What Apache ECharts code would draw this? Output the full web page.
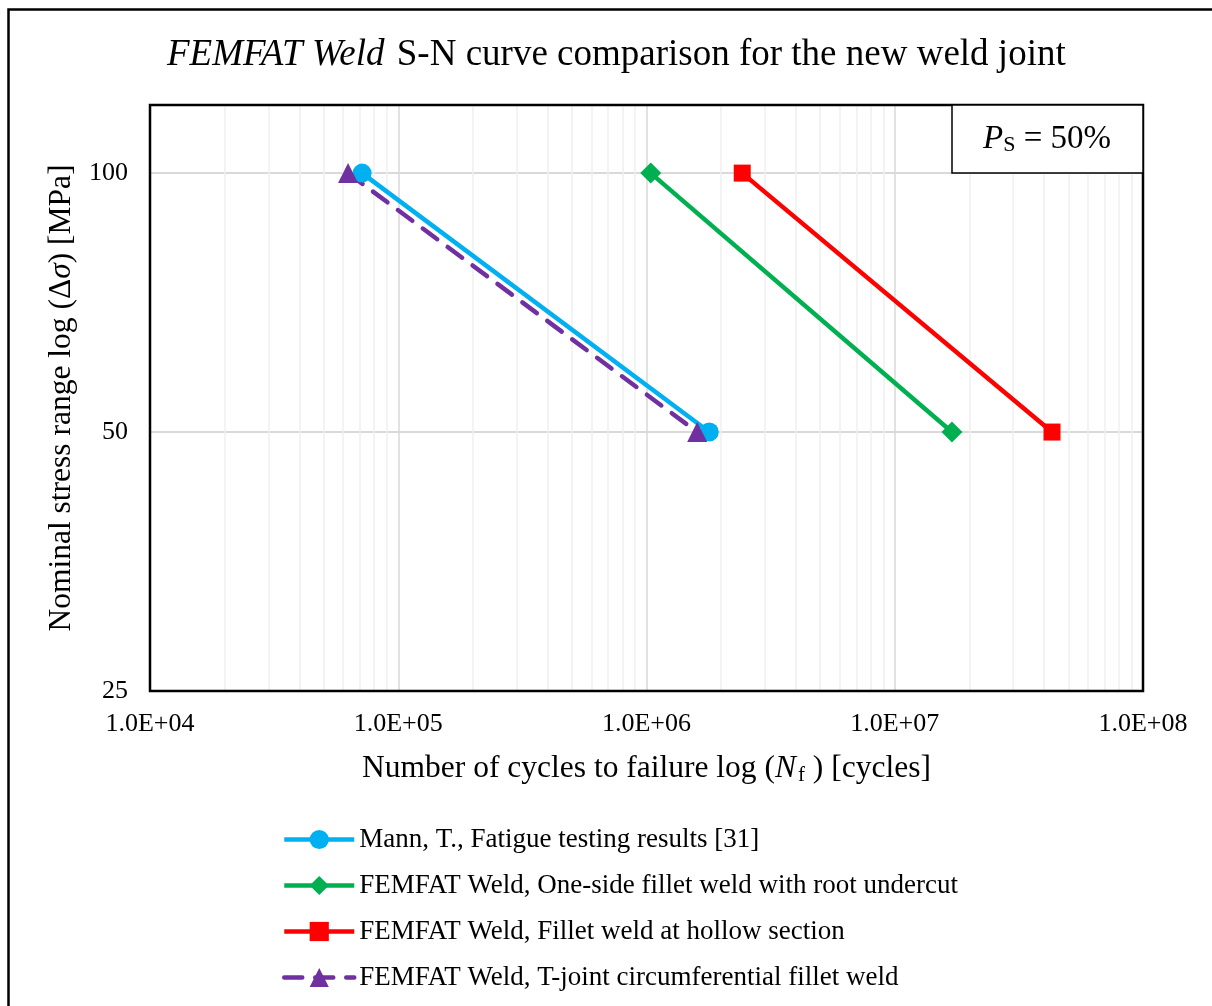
<!DOCTYPE html>
<html>
<head>
<meta charset="utf-8">
<script src="https://cdn.jsdelivr.net/npm/echarts@6/dist/echarts.min.js"></script>
<style>
html,body{margin:0;padding:0;background:#fff;}
#chart{width:1212px;height:1006px;}
</style>
</head>
<body>
<div id="chart"></div>
<script>
// ---- data ----
const seriesNames = [
  'Mann, T., Fatigue testing results [31]',
  'FEMFAT Weld, One-side fillet weld with root undercut',
  'FEMFAT Weld, Fillet weld at hollow section',
  'FEMFAT Weld, T-joint circumferential fillet weld'
];
const mannData   = [[7.15e4, 100], [1.79e6, 50]];
const oneSideData = [[1.04e6, 100], [1.70e7, 50]];
const hollowData = [[2.43e6, 100], [4.30e7, 50]];
const tJointData = [[6.28e4, 100], [1.60e6, 50]];

const xMajorTicks = [1e4, 1e5, 1e6, 1e7, 1e8];
const xMinorMultipliers = [2, 3, 4, 5, 6, 7, 8, 9];
const yTicks = [25, 50, 100];

// build full x gridline list (major + minor)
const xGridTicks = [];
xMajorTicks.forEach(function (m, i) {
  xGridTicks.push(m);
  if (i < xMajorTicks.length - 1) xMinorMultipliers.forEach(function (k) { xGridTicks.push(m * k); });
});
const gridColors = ['#d9d9d9'].concat(xMinorMultipliers.map(function () { return '#efefef'; }));

const FONT = '"Liberation Serif", "Times New Roman", serif';

const chart = echarts.init(document.getElementById('chart'));
chart.setOption({
  backgroundColor: '#fff',
  animation: false,
  textStyle: { fontFamily: FONT, color: '#000' },
  title: {
    left: 162, top: 32,
    text: '{i|FEMFAT Weld}{n| S-N curve comparison for the new weld joint}',
    textStyle: {
      fontWeight: 'normal',
      rich: {
        i: { fontFamily: FONT, fontSize: 37, fontStyle: 'italic', fontWeight: 'normal', color: '#000', padding: [0, 3, 0, 0] },
        n: { fontFamily: FONT, fontSize: 37, fontWeight: 'normal', color: '#000' }
      }
    }
  },
  grid: {
    left: 150, top: 105, width: 993, height: 586,
    show: false
  },
  xAxis: {
    type: 'log', logBase: 10, min: 1e4, max: 1e8,
    axisLine: { show: false },
    axisTick: { show: false, customValues: xGridTicks },
    axisLabel: {
      customValues: xMajorTicks,
      fontFamily: FONT, fontSize: 26, color: '#000', margin: 20,
      formatter: function (v) {
        const e = Math.round(Math.log10(v));
        return '1.0E+' + (e < 10 ? '0' + e : e);
      }
    },
    splitLine: { show: true, lineStyle: { color: gridColors, width: 1.5 } },
    minorSplitLine: { show: false },
    name: '{n|Number of cycles to failure log (}{i|N}{s|f}{n| ) [cycles]}',
    nameLocation: 'middle', nameGap: 61,
    nameTextStyle: {
      rich: {
        n: { fontFamily: FONT, fontSize: 31.5, color: '#000' },
        i: { fontFamily: FONT, fontSize: 31.5, fontStyle: 'italic', color: '#000' },
        s: { fontFamily: FONT, fontSize: 21, color: '#000', padding: [13, 0, 0, 2] }
      }
    }
  },
  yAxis: {
    type: 'log', logBase: 2, min: 25, max: 120,
    axisLine: { show: false },
    axisTick: { show: false, customValues: yTicks },
    axisLabel: { customValues: yTicks, fontFamily: FONT, fontSize: 26, color: '#000', margin: 22 },
    splitLine: { show: true, lineStyle: { color: '#d9d9d9', width: 2 } },
    name: '{n|Nominal stress range log (Δ}{i|σ}{n|) [MPa]}',
    nameLocation: 'middle', nameGap: 68, nameRotate: 90,
    nameTextStyle: {
      rich: {
        n: { fontFamily: FONT, fontSize: 31.5, color: '#000' },
        i: { fontFamily: FONT, fontSize: 31.5, fontStyle: 'italic', color: '#000' }
      }
    }
  },
  legend: {
    orient: 'vertical', left: 277, top: 821,
    itemWidth: 70, itemHeight: 24, itemGap: 19,
    lineStyle: { width: 4.5 },
    textStyle: { fontFamily: FONT, fontSize: 27, color: '#000' },
    data: seriesNames
  },
  series: [
    {
      name: seriesNames[0], type: 'line', data: mannData,
      symbol: 'circle', symbolSize: 19,
      lineStyle: { color: '#00B0F0', width: 4.5 }, itemStyle: { color: '#00B0F0' }
    },
    {
      name: seriesNames[1], type: 'line', data: oneSideData,
      symbol: 'diamond', symbolSize: [21, 21],
      lineStyle: { color: '#00B050', width: 4.5 }, itemStyle: { color: '#00B050' }
    },
    {
      name: seriesNames[2], type: 'line', data: hollowData,
      symbol: 'rect', symbolSize: 17,
      lineStyle: { color: '#FF0000', width: 4.5 }, itemStyle: { color: '#FF0000' }
    },
    {
      name: seriesNames[3], type: 'line', data: tJointData,
      symbol: 'triangle', symbolSize: 20,
      lineStyle: { color: '#7030A0', width: 4.5, type: [18, 13], cap: 'round' }, itemStyle: { color: '#7030A0' }
    }
  ],
  graphic: [
    {
      type: 'rect', silent: true, z: 100,
      shape: { x: 8.5, y: 9.5, width: 1400, height: 1200 },
      style: { fill: 'none', stroke: '#000', lineWidth: 2.5 }
    },
    {
      type: 'rect', silent: true, z: 100,
      shape: { x: 150, y: 105, width: 993, height: 586 },
      style: { fill: 'none', stroke: '#000', lineWidth: 2.5 }
    },
    {
      type: 'rect', silent: true, z: 100,
      shape: { x: 952, y: 105, width: 191, height: 68 },
      style: { fill: '#fff', stroke: '#000', lineWidth: 1.5 }
    },
    {
      type: 'text', silent: true, z: 101,
      x: 1047, y: 139,
      style: {
        text: '{i|P}{s|S}{n| = 50%}',
        align: 'center', verticalAlign: 'middle',
        rich: {
          i: { fontFamily: FONT, fontSize: 33, fontStyle: 'italic', fill: '#000' },
          s: { fontFamily: FONT, fontSize: 22, fill: '#000', padding: [13, 0, 0, 0] },
          n: { fontFamily: FONT, fontSize: 33, fill: '#000' }
        }
      }
    }
  ]
});
</script>
</body>
</html>
